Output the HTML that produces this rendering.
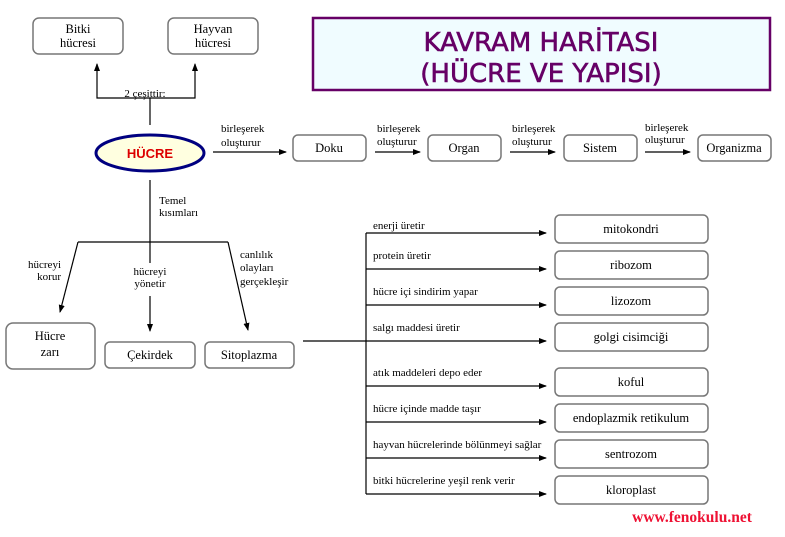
<!DOCTYPE html>
<html><head><meta charset="utf-8"><style>
html,body{margin:0;padding:0;background:#fff;}
svg{display:block;}
.s{font-family:"Liberation Serif",serif;font-size:11px;fill:#000;}
.b{font-family:"Liberation Serif",serif;font-size:12.5px;fill:#000;}
.bx{fill:#fff;stroke:#777;stroke-width:1.5;}
</style></head><body>
<svg width="785" height="537" viewBox="0 0 785 537" xmlns="http://www.w3.org/2000/svg">
<defs><marker id="a" markerWidth="8" markerHeight="8" refX="7" refY="4" orient="auto" markerUnits="userSpaceOnUse"><path d="M0,1 L8,4 L0,7 z" fill="#000"/></marker></defs>
<rect x="313" y="18" width="457" height="72" fill="#f0fcff" stroke="#660066" stroke-width="2.5"/>
<text x="541" y="51" text-anchor="middle" font-family="DejaVu Sans,sans-serif" font-size="26" fill="#660066" stroke="#660066" stroke-width="0.6">KAVRAM HARİTASI</text>
<text x="541" y="82" text-anchor="middle" font-family="DejaVu Sans,sans-serif" font-size="26" fill="#660066" stroke="#660066" stroke-width="0.6">(HÜCRE VE YAPISI)</text>
<g stroke="#000" stroke-width="1.2" fill="none">
<path d="M150,125 V98 H97 V64" marker-end="url(#a)"/>
<path d="M150,98 H195 V64" marker-end="url(#a)"/>
<path d="M213,152 H286" marker-end="url(#a)"/>
<path d="M375,152 H420" marker-end="url(#a)"/>
<path d="M510,152 H555" marker-end="url(#a)"/>
<path d="M645,152 H690" marker-end="url(#a)"/>
<path d="M150,180 V263"/>
<path d="M150,296 V331" marker-end="url(#a)"/>
<path d="M78,242 H228"/>
<path d="M78,242 L60,312" marker-end="url(#a)"/>
<path d="M228,242 L248,330" marker-end="url(#a)"/>
<path d="M303,341 H366"/>
<path d="M366,233 V494"/>
<path d="M366,233 H546" marker-end="url(#a)"/>
<path d="M366,269 H546" marker-end="url(#a)"/>
<path d="M366,305 H546" marker-end="url(#a)"/>
<path d="M366,341 H546" marker-end="url(#a)"/>
<path d="M366,386 H546" marker-end="url(#a)"/>
<path d="M366,422 H546" marker-end="url(#a)"/>
<path d="M366,458 H546" marker-end="url(#a)"/>
<path d="M366,494 H546" marker-end="url(#a)"/>
</g>
<rect class="bx" x="33" y="18" width="90" height="36" rx="6"/>
<text class="b" x="78" y="33" text-anchor="middle">Bitki</text><text class="b" x="78" y="47" text-anchor="middle">hücresi</text>
<rect class="bx" x="168" y="18" width="90" height="36" rx="6"/>
<text class="b" x="213" y="33" text-anchor="middle">Hayvan</text><text class="b" x="213" y="47" text-anchor="middle">hücresi</text>
<text class="s" x="145" y="97" text-anchor="middle">2 çeşittir:</text>
<ellipse cx="150" cy="153" rx="54" ry="18" fill="#ffffe0" stroke="#000080" stroke-width="3"/>
<text x="150" y="158" text-anchor="middle" font-family="Liberation Sans,sans-serif" font-weight="bold" font-size="13" fill="#dd0000">HÜCRE</text>
<text class="s" x="221" y="132">birleşerek</text><text class="s" x="221" y="146">oluşturur</text>
<text class="s" x="377" y="132">birleşerek</text><text class="s" x="377" y="145">oluşturur</text>
<text class="s" x="512" y="132">birleşerek</text><text class="s" x="512" y="145">oluşturur</text>
<text class="s" x="645" y="131" font-size="10">birleşerek</text><text class="s" x="645" y="143" font-size="10">oluşturur</text>
<rect class="bx" x="293" y="135" width="73" height="26" rx="5"/><text class="b" x="329" y="152" text-anchor="middle">Doku</text>
<rect class="bx" x="428" y="135" width="73" height="26" rx="5"/><text class="b" x="464" y="152" text-anchor="middle">Organ</text>
<rect class="bx" x="564" y="135" width="73" height="26" rx="5"/><text class="b" x="600" y="152" text-anchor="middle">Sistem</text>
<rect class="bx" x="698" y="135" width="73" height="26" rx="5"/><text class="b" x="734" y="152" text-anchor="middle">Organizma</text>
<text class="s" x="159" y="204">Temel</text><text class="s" x="159" y="216">kısımları</text>
<text class="s" x="61" y="268" text-anchor="end">hücreyi</text><text class="s" x="61" y="280" text-anchor="end">korur</text>
<text class="s" x="150" y="275" text-anchor="middle">hücreyi</text><text class="s" x="150" y="287" text-anchor="middle">yönetir</text>
<text class="s" x="240" y="258">canlılık</text><text class="s" x="240" y="271">olayları</text><text class="s" x="240" y="285">gerçekleşir</text>
<rect class="bx" x="6" y="323" width="89" height="46" rx="7"/>
<text class="b" x="50" y="340" text-anchor="middle">Hücre</text><text class="b" x="50" y="356" text-anchor="middle">zarı</text>
<rect class="bx" x="105" y="342" width="90" height="26" rx="5"/><text class="b" x="150" y="359" text-anchor="middle">Çekirdek</text>
<rect class="bx" x="205" y="342" width="89" height="26" rx="5"/><text class="b" x="249" y="359" text-anchor="middle">Sitoplazma</text>
<text class="s" x="373" y="229">enerji üretir</text>
<text class="s" x="373" y="259">protein üretir</text>
<text class="s" x="373" y="295">hücre içi sindirim yapar</text>
<text class="s" x="373" y="331">salgı maddesi üretir</text>
<text class="s" x="373" y="376">atık maddeleri depo eder</text>
<text class="s" x="373" y="412">hücre içinde madde taşır</text>
<text class="s" x="373" y="448">hayvan hücrelerinde bölünmeyi sağlar</text>
<text class="s" x="373" y="484">bitki hücrelerine yeşil renk verir</text>
<rect class="bx" x="555" y="215" width="153" height="28" rx="5"/><text class="b" x="631" y="233" text-anchor="middle">mitokondri</text>
<rect class="bx" x="555" y="251" width="153" height="28" rx="5"/><text class="b" x="631" y="269" text-anchor="middle">ribozom</text>
<rect class="bx" x="555" y="287" width="153" height="28" rx="5"/><text class="b" x="631" y="305" text-anchor="middle">lizozom</text>
<rect class="bx" x="555" y="323" width="153" height="28" rx="5"/><text class="b" x="631" y="341" text-anchor="middle">golgi cisimciği</text>
<rect class="bx" x="555" y="368" width="153" height="28" rx="5"/><text class="b" x="631" y="386" text-anchor="middle">koful</text>
<rect class="bx" x="555" y="404" width="153" height="28" rx="5"/><text class="b" x="631" y="422" text-anchor="middle">endoplazmik retikulum</text>
<rect class="bx" x="555" y="440" width="153" height="28" rx="5"/><text class="b" x="631" y="458" text-anchor="middle">sentrozom</text>
<rect class="bx" x="555" y="476" width="153" height="28" rx="5"/><text class="b" x="631" y="494" text-anchor="middle">kloroplast</text>
<text x="692" y="522" text-anchor="middle" font-family="Liberation Serif,serif" font-weight="bold" font-size="15.5" fill="#ee1133">www.fenokulu.net</text>
</svg>
</body></html>
